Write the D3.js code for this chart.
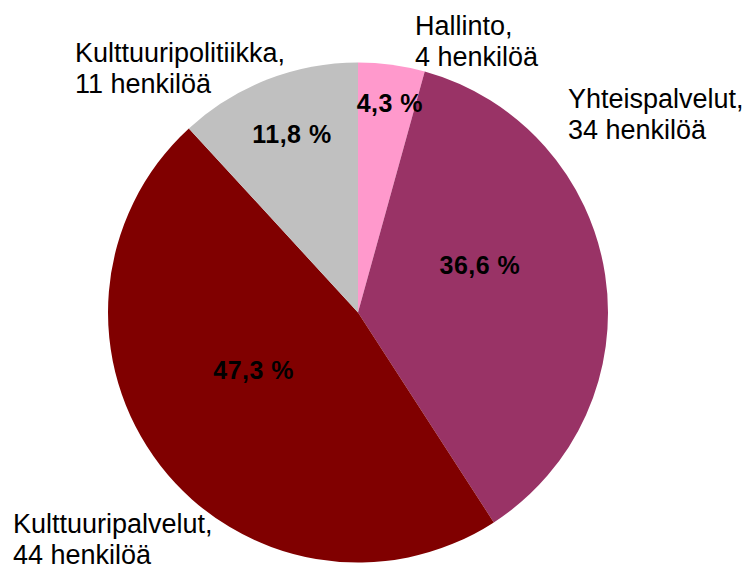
<!DOCTYPE html>
<html>
<head>
<meta charset="utf-8">
<script src="https://cdn.jsdelivr.net/npm/d3@7"></script>
<style>
  body { margin: 0; background: #fff; }
  svg { display: block; font-family: "Liberation Sans", Arial, sans-serif; }
</style>
</head>
<body>
<div id="chart"></div>
<script>
// data
const categories = ["Hallinto", "Yhteispalvelut", "Kulttuuripalvelut", "Kulttuuripolitiikka"];
const persons = [4, 34, 44, 11];
const colors = ["#ff99cc", "#993366", "#800000", "#c0c0c0"];

const width = 743, height = 575;
const cx = 358, cy = 312.5, radius = 250;

// label placement (angle in radians clockwise from top, distance from centre)
const pctLabelPos = [[0.151, 212], [1.196, 131], [4.211, 119], [5.928, 190]];
const nameLabelPos = [[415, 35], [568, 108], [13, 533], [75, 62]];

const svg = d3.select("#chart").append("svg")
  .attr("width", width)
  .attr("height", height);

const total = d3.sum(persons);
const rows = categories.map((c, i) => ({ name: c, value: persons[i], color: colors[i] }));

const pie = d3.pie().sort(null).value(d => d.value);
const arc = d3.arc().innerRadius(0).outerRadius(radius);
const arcs = pie(rows);

const g = svg.append("g").attr("transform", `translate(${cx},${cy})`);

g.selectAll("path.slice")
  .data(arcs)
  .enter().append("path")
  .attr("class", "slice")
  .attr("d", arc)
  .attr("fill", d => d.data.color);

const fmt = v => (v * 100).toFixed(1).replace(".", ",") + " %";

// percentage labels inside slices
g.selectAll("text.pct")
  .data(arcs)
  .enter().append("text")
  .attr("class", "pct")
  .attr("x", (d, i) => Math.sin(pctLabelPos[i][0]) * pctLabelPos[i][1])
  .attr("y", (d, i) => -Math.cos(pctLabelPos[i][0]) * pctLabelPos[i][1])
  .attr("dy", "0.36em")
  .attr("text-anchor", "middle")
  .style("font-size", "25px")
  .style("font-weight", "bold")
  .style("letter-spacing", "0.5px")
  .style("fill", "#000")
  .text(d => fmt(d.data.value / total));

// category labels outside
const names = svg.selectAll("text.name")
  .data(rows)
  .enter().append("text")
  .attr("class", "name")
  .attr("x", (d, i) => nameLabelPos[i][0])
  .attr("y", (d, i) => nameLabelPos[i][1])
  .style("font-size", "27px")
  .style("fill", "#000");

names.append("tspan")
  .text(d => d.name + ",");
names.append("tspan")
  .attr("x", (d, i) => nameLabelPos[i][0])
  .attr("dy", 31)
  .text(d => d.value + " henkilöä");
</script>
</body>
</html>
